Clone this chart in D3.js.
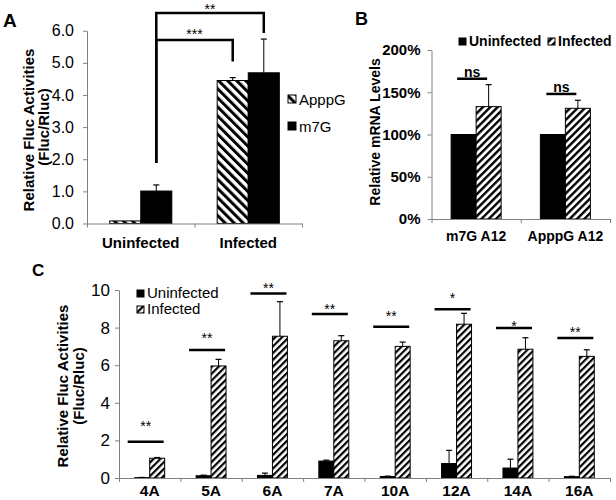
<!DOCTYPE html>
<html><head><meta charset="utf-8">
<script src="https://cdn.jsdelivr.net/npm/d3@7"></script>
<style>
html,body{margin:0;padding:0;background:#fff;}
svg text{font-family:"Liberation Sans",Arial,sans-serif;fill:#000;}
</style></head>
<body><svg id="c" width="616" height="500"></svg>
<script>
// ---------- Panel A data ----------
const aCategories = ["Uninfected", "Infected"];
const aSeries = ["ApppG", "m7G"];
const aApppG = [0.08, 4.45];
const aApppGErr = [0, 0.09];
const aM7G = [1.01, 4.69];
const aM7GErr = [0.19, 1.05];
const aTicks = [0, 1, 2, 3, 4, 5, 6];
const aSigLabels = ["***", "**"];
const aSigRightSeries = ["ApppG", "m7G"];
const aSigTop = [5.71, 6.55];
const aSigLeftEnd = [1.88, 1.88];
const aSigRightEnd = [5.04, 5.93];
const aSigLabelLevel = [5.99, 6.78];

// ---------- Panel B data ----------
const bCategories = ["m7G A12", "ApppG A12"];
const bSeries = ["Uninfected", "Infected"];
const bUninfected = [1.0, 1.0];
const bInfected = [1.33, 1.31];
const bInfectedErr = [0.26, 0.095];
const bTicks = [0, 0.5, 1, 1.5, 2];
const bSigLabels = ["ns", "ns"];
const bSigLevel = [1.66, 1.48];

// ---------- Panel C data ----------
const cCategories = ["4A", "5A", "6A", "7A", "10A", "12A", "14A", "16A"];
const cSeries = ["Uninfected", "Infected"];
const cUninfected = [0.02, 0.12, 0.14, 0.9, 0.08, 0.77, 0.53, 0.07];
const cUninfectedErr = [0.01, 0.03, 0.12, 0.05, 0.02, 0.7, 0.47, 0.02];
const cInfected = [1.05, 5.96, 7.54, 7.3, 7.0, 8.18, 6.85, 6.47];
const cInfectedErr = [0.04, 0.35, 1.84, 0.27, 0.23, 0.58, 0.61, 0.35];
const cTicks = [0, 2, 4, 6, 8, 10];
const cSigLabels = ["**", "**", "**", "**", "**", "*", "*", "**"];
const cSigLevel = [1.93, 6.81, 9.82, 8.72, 8.05, 8.97, 7.98, 7.45];
const cSigLabelLevel = [2.93, 7.61, 10.24, 9.15, 8.78, 9.71, 8.24, 7.93];

// ---------- drawing ----------
const svg = d3.select("#c");
const FONT = '"Liberation Sans",Arial,sans-serif';
const AXC = "#808080";
const defs = svg.append("defs");
function hatch(id, size, thick, angle) {
  const p = defs.append("pattern").attr("id", id).attr("patternUnits", "userSpaceOnUse")
    .attr("width", size).attr("height", size).attr("patternTransform", `rotate(${angle})`);
  p.append("rect").attr("width", size).attr("height", size).attr("fill", "#fff");
  p.append("rect").attr("width", thick).attr("height", size).attr("fill", "#000");
}
hatch("hA", 6.4, 3.0, -45);
hatch("hB", 5.2, 2.4, 45);
hatch("hC", 4.8, 2.2, 45);

function styleAxis(g, fontSize, bold) {
  g.select(".domain").attr("stroke", AXC);
  g.selectAll(".tick line").attr("stroke", AXC);
  g.selectAll(".tick text").attr("font-size", fontSize).attr("font-family", FONT)
    .attr("font-weight", bold ? "bold" : "normal").attr("fill", "#000");
}
function errBar(g, x, y0, y1, cap) {
  g.append("line").attr("x1", x).attr("x2", x).attr("y1", y0).attr("y2", y1).attr("stroke", "#000").attr("stroke-width", 1);
  g.append("line").attr("x1", x - cap / 2).attr("x2", x + cap / 2).attr("y1", y1).attr("y2", y1).attr("stroke", "#000").attr("stroke-width", 1.2);
}
function yLabel(lines, xs, ys, size) {
  lines.forEach((t, i) => {
    svg.append("text").attr("transform", `translate(${xs[i]},${ys[i]}) rotate(-90)`)
      .attr("text-anchor", "middle").attr("font-size", size).attr("font-weight", "bold").text(t);
  });
}

// ===== Panel A =====
{
  const x = d3.scaleBand().domain(aCategories).range([87, 302]);
  const xi = d3.scaleBand().domain(aSeries).range([0, x.bandwidth()]).paddingOuter(0.73);
  const y = d3.scaleLinear().domain([0, 6]).range([223.5, 30.7]);
  const vals = { ApppG: aApppG, m7G: aM7G };
  const errs = { ApppG: aApppGErr, m7G: aM7GErr };
  const g = svg.append("g");
  aCategories.forEach((c, ci) => {
    aSeries.forEach(s => {
      const bx = x(c) + xi(s), v = vals[s][ci];
      g.append("rect").attr("x", bx).attr("y", y(v)).attr("width", xi.bandwidth()).attr("height", y(0) - y(v))
        .attr("fill", s === "ApppG" ? "url(#hA)" : "#000").attr("stroke", "#000").attr("stroke-width", 1);
      if (errs[s][ci] > 0) errBar(g, bx + xi.bandwidth() / 2, y(v), y(v + errs[s][ci]), 6);
    });
  });
  const ya = svg.append("g").attr("transform", "translate(87,0)")
    .call(d3.axisLeft(y).tickValues(aTicks).tickFormat(d3.format(".1f")).tickSize(4).tickSizeOuter(0).tickPadding(9));
  styleAxis(ya, 16, false);
  const xb = d3.scaleLinear().domain([0, aCategories.length]).range([87, 302]);
  const xa = svg.append("g").attr("transform", `translate(0,${y(0)})`)
    .call(d3.axisBottom(xb).ticks(aCategories.length).tickFormat("").tickSize(4).tickSizeOuter(0));
  styleAxis(xa, 15, true);
  aCategories.forEach(c => svg.append("text").attr("x", x(c) + x.bandwidth() / 2).attr("y", 248)
    .attr("text-anchor", "middle").attr("font-size", 15).attr("font-weight", "bold").text(c));
  // significance brackets
  const leftX = x("Uninfected") + xi("m7G") + xi.bandwidth() / 2;
  aSigLabels.forEach((lab, i) => {
    const rx = x("Infected") + xi(aSigRightSeries[i]) + xi.bandwidth() / 2;
    const path = d3.path();
    path.moveTo(leftX, y(aSigLeftEnd[i])); path.lineTo(leftX, y(aSigTop[i]));
    path.lineTo(rx, y(aSigTop[i])); path.lineTo(rx, y(aSigRightEnd[i]));
    svg.append("path").attr("d", path.toString()).attr("fill", "none").attr("stroke", "#000").attr("stroke-width", 2.5);
    svg.append("text").attr("x", (leftX + rx) / 2).attr("y", y(aSigLabelLevel[i]) + 8)
      .attr("text-anchor", "middle").attr("font-size", 14).text(lab);
  });
  // legend
  aSeries.forEach((s, i) => {
    svg.append("rect").attr("x", 288).attr("y", 95 + i * 27).attr("width", 8).attr("height", 8)
      .attr("fill", s === "ApppG" ? "url(#hA)" : "#000").attr("stroke", "#000").attr("stroke-width", 1);
    svg.append("text").attr("x", 299).attr("y", 105 + i * 27).attr("font-size", 15).text(s);
  });
  yLabel(["Relative Fluc Activities", "(Fluc/Rluc)"], [34, 49], [130, 127], 15);
  svg.append("text").attr("x", 3).attr("y", 27).attr("font-size", 19).attr("font-weight", "bold").text("A");
}

// ===== Panel B =====
{
  const x = d3.scaleBand().domain(bCategories).range([431.5, 610]);
  const xi = d3.scaleBand().domain(bSeries).range([0, x.bandwidth()]).paddingOuter(0.785);
  const y = d3.scaleLinear().domain([0, 2]).range([219, 50]);
  const vals = { Uninfected: bUninfected, Infected: bInfected };
  const g = svg.append("g");
  bCategories.forEach((c, ci) => {
    bSeries.forEach(s => {
      const bx = x(c) + xi(s), v = vals[s][ci];
      g.append("rect").attr("x", bx).attr("y", y(v)).attr("width", xi.bandwidth()).attr("height", y(0) - y(v))
        .attr("fill", s === "Infected" ? "url(#hB)" : "#000").attr("stroke", "#000").attr("stroke-width", 1);
      if (s === "Infected") errBar(g, bx + xi.bandwidth() / 2, y(v), y(v + bInfectedErr[ci]), 6);
    });
    const cx = x(c) + x.bandwidth() / 2 - 4;
    svg.append("line").attr("x1", cx - 15).attr("x2", cx + 15).attr("y1", y(bSigLevel[ci])).attr("y2", y(bSigLevel[ci]))
      .attr("stroke", "#000").attr("stroke-width", 2.5);
    svg.append("text").attr("x", cx).attr("y", y(bSigLevel[ci]) - 2).attr("text-anchor", "middle")
      .attr("font-size", 14).attr("font-weight", "bold").text(bSigLabels[ci]);
  });
  const ya = svg.append("g").attr("transform", "translate(431.5,0)")
    .call(d3.axisLeft(y).tickValues(bTicks).tickFormat(d3.format(".0%")).tickSize(4).tickSizeOuter(0).tickPadding(7));
  styleAxis(ya, 15, true);
  const xb = d3.scaleLinear().domain([0, bCategories.length]).range([431.5, 610]);
  const xa = svg.append("g").attr("transform", `translate(0,${y(0)})`)
    .call(d3.axisBottom(xb).ticks(bCategories.length).tickFormat("").tickSize(4).tickSizeOuter(0));
  styleAxis(xa, 14, true);
  bCategories.forEach(c => svg.append("text").attr("x", x(c) + x.bandwidth() / 2).attr("y", 241)
    .attr("text-anchor", "middle").attr("font-size", 14).attr("font-weight", "bold").text(c));
  // legend
  const lx = [459, 548], tx = [469, 558];
  bSeries.forEach((s, i) => {
    svg.append("rect").attr("x", lx[i]).attr("y", 38).attr("width", 7).attr("height", 7)
      .attr("fill", s === "Infected" ? "url(#hB)" : "#000").attr("stroke", "#000").attr("stroke-width", 1);
    svg.append("text").attr("x", tx[i]).attr("y", 46).attr("font-size", 14).attr("font-weight", "bold").text(s);
  });
  yLabel(["Relative mRNA Levels"], [380], [132], 14);
  svg.append("text").attr("x", 355).attr("y", 25).attr("font-size", 18).attr("font-weight", "bold").text("B");
}

// ===== Panel C =====
{
  const x = d3.scaleBand().domain(cCategories).range([119, 610]);
  const xi = d3.scaleBand().domain(cSeries).range([0, x.bandwidth()]).paddingOuter(1.05);
  const y = d3.scaleLinear().domain([0, 10]).range([478, 290]);
  const vals = { Uninfected: cUninfected, Infected: cInfected };
  const errs = { Uninfected: cUninfectedErr, Infected: cInfectedErr };
  const g = svg.append("g");
  cCategories.forEach((c, ci) => {
    cSeries.forEach(s => {
      const bx = x(c) + xi(s), v = vals[s][ci];
      g.append("rect").attr("x", bx).attr("y", y(v)).attr("width", xi.bandwidth()).attr("height", y(0) - y(v))
        .attr("fill", s === "Infected" ? "url(#hC)" : "#000").attr("stroke", "#000").attr("stroke-width", 1);
      errBar(g, bx + xi.bandwidth() / 2, y(v), y(v + errs[s][ci]), 6);
    });
    const cx = x(c) + x.bandwidth() / 2 - 4;
    svg.append("line").attr("x1", cx - 18).attr("x2", cx + 18).attr("y1", y(cSigLevel[ci])).attr("y2", y(cSigLevel[ci]))
      .attr("stroke", "#000").attr("stroke-width", 2.5);
    svg.append("text").attr("x", cx).attr("y", y(cSigLabelLevel[ci]) + 8).attr("text-anchor", "middle")
      .attr("font-size", 14).text(cSigLabels[ci]);
  });
  const ya = svg.append("g").attr("transform", "translate(119,0)")
    .call(d3.axisLeft(y).tickValues(cTicks).tickSize(4).tickSizeOuter(0).tickPadding(5));
  styleAxis(ya, 17, false);
  const xb = d3.scaleLinear().domain([0, cCategories.length]).range([119, 610]);
  const xa = svg.append("g").attr("transform", `translate(0,${y(0)})`)
    .call(d3.axisBottom(xb).ticks(cCategories.length).tickFormat("").tickSize(4).tickSizeOuter(0));
  styleAxis(xa, 15, true);
  cCategories.forEach(c => svg.append("text").attr("x", x(c) + x.bandwidth() / 2).attr("y", 496)
    .attr("text-anchor", "middle").attr("font-size", 15.5).attr("font-weight", "bold").text(c));
  cSeries.forEach((s, i) => {
    svg.append("rect").attr("x", 137).attr("y", 290 + i * 16).attr("width", 7).attr("height", 7)
      .attr("fill", s === "Infected" ? "url(#hC)" : "#000").attr("stroke", "#000").attr("stroke-width", 1);
    svg.append("text").attr("x", 147).attr("y", 298 + i * 16).attr("font-size", 15).text(s);
  });
  yLabel(["Relative Fluc Activities", "(Fluc/Rluc)"], [68, 84], [386, 386], 15);
  svg.append("text").attr("x", 32).attr("y", 276).attr("font-size", 17).attr("font-weight", "bold").text("C");
}
</script></body></html>
